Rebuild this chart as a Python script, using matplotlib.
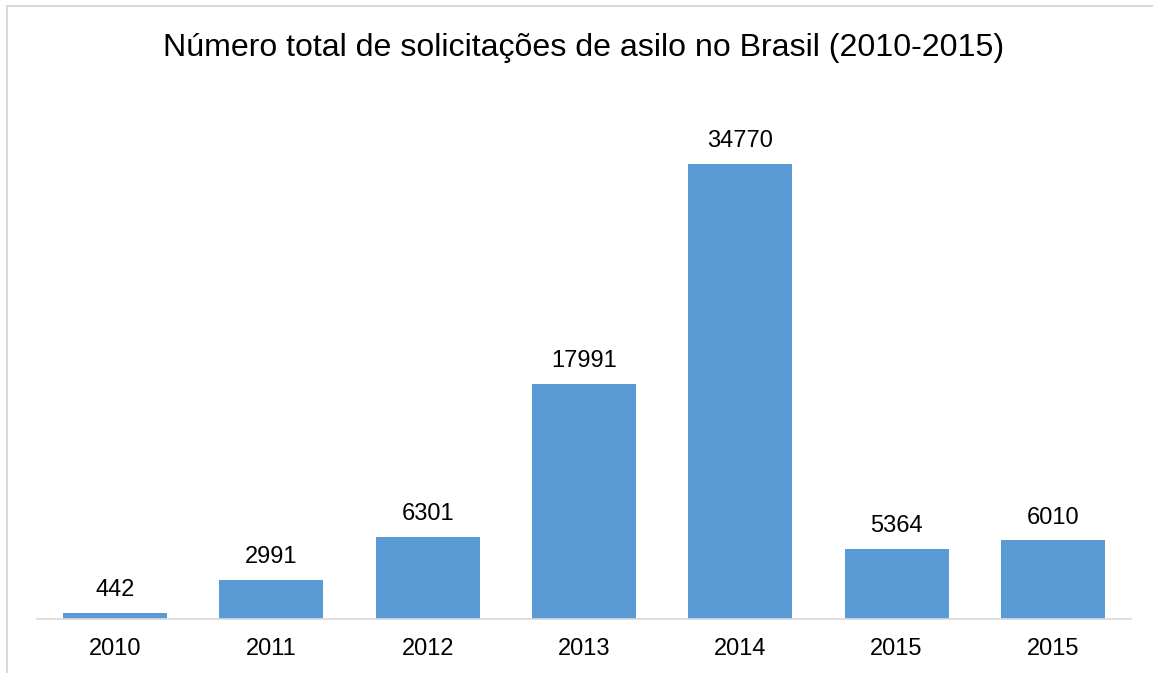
import matplotlib
matplotlib.use('Agg')
import matplotlib.pyplot as plt
from matplotlib.lines import Line2D

anos = ["2010", "2011", "2012", "2013", "2014", "2015", "2015"]
solicitacoes = [442, 2991, 6301, 17991, 34770, 5364, 6010]

plt.rcParams['font.family'] = ['Liberation Sans', 'DejaVu Sans']

W, H = 1153, 673
fig = plt.figure(figsize=(W / 100, H / 100), dpi=100)

# área do gráfico (em pixels da imagem de referência)
x0, x1, y_base, y_top = 37, 1131, 619, 95.6
ax = fig.add_axes([x0 / W, 1 - y_base / H, (x1 - x0) / W, (y_base - y_top) / H])

pos = range(len(anos))
ax.bar(pos, solicitacoes, width=0.665, color="#5b9bd5")
ax.set_xlim(-0.5, len(anos) - 0.5)
ax.set_ylim(0, 40000)

for x, v in zip(pos, solicitacoes):
    ax.annotate(str(v), (x, v), xytext=(0, 8.5), textcoords="offset points",
                ha="center", va="bottom", fontsize=17, color="#000000")

ax.set_xticks(list(pos))
ax.set_xticklabels(anos, fontsize=17)
ax.tick_params(axis="x", length=0, pad=13.5)
ax.set_yticks([])
for s in ["top", "right", "left"]:
    ax.spines[s].set_visible(False)
ax.spines["bottom"].set_color("#d9d9d9")
ax.spines["bottom"].set_linewidth(1.2)

fig.text(584 / W, 1 - 48 / H, "Número total de solicitações de asilo no Brasil (2010-2015)",
         ha="center", va="center", fontsize=23.1)

# moldura cinza (topo e esquerda)
fig.add_artist(Line2D([7 / W, 1], [1 - 6 / H, 1 - 6 / H], color="#d9d9d9", lw=1.5,
                      transform=fig.transFigure))
fig.add_artist(Line2D([7 / W, 7 / W], [0, 1 - 6 / H], color="#d9d9d9", lw=1.5,
                      transform=fig.transFigure))

fig.savefig("out.png", dpi=100)
plt.close(fig)
